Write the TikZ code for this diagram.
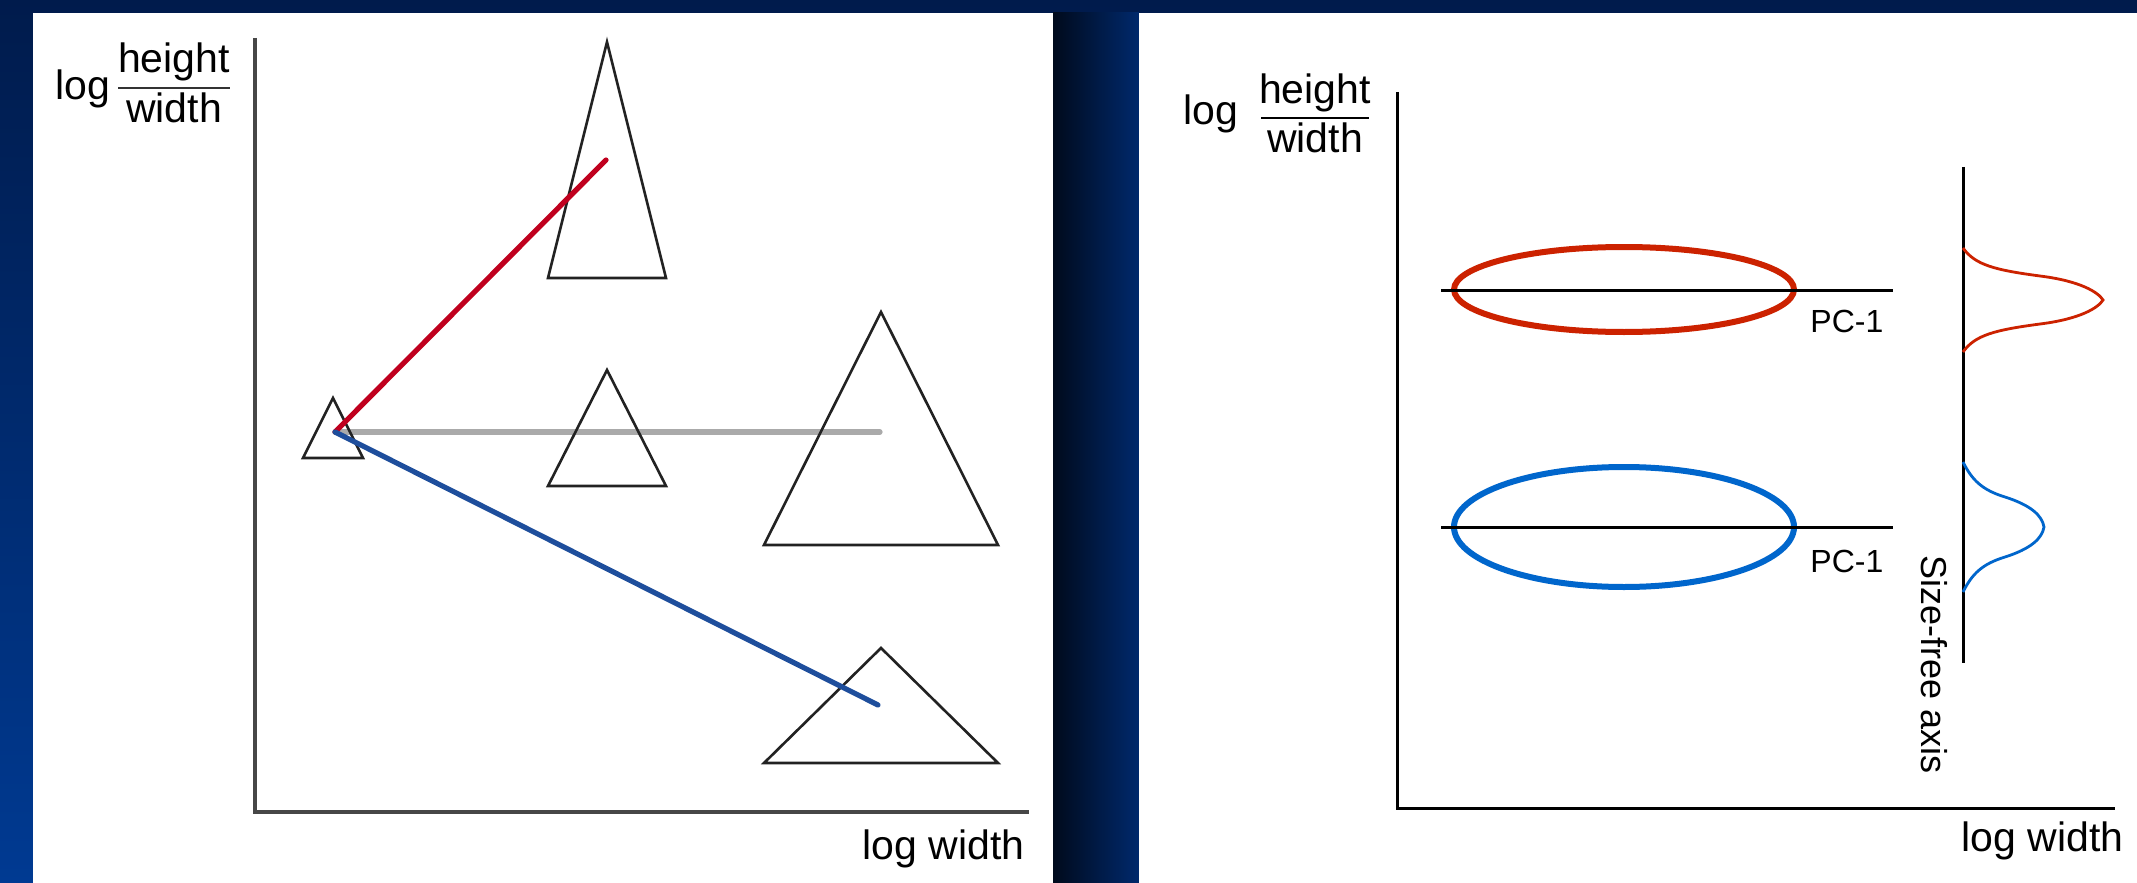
\documentclass[tikz,border=0pt]{standalone}
\usepackage{fontspec}
\setmainfont{Liberation Sans}
\definecolor{bgTop}{HTML}{001B4C}
\definecolor{bgBot}{HTML}{003A92}
\definecolor{gapL}{HTML}{000A1C}
\definecolor{gapR}{HTML}{00296C}
\definecolor{redL}{HTML}{C0001E}
\definecolor{blueL}{HTML}{1E4E9C}
\definecolor{grayL}{HTML}{AAAAAA}
\definecolor{redR}{HTML}{CC2200}
\definecolor{blueR}{HTML}{0066CC}
\definecolor{inkL}{HTML}{222222}
\begin{document}
\begin{tikzpicture}[x=0.5pt,y=-0.5pt,
  lbl/.style={inner sep=0pt, font=\fontsize{20.5}{24}\selectfont},
  pclbl/.style={inner sep=0pt, font=\fontsize{16}{19}\selectfont},
  sflbl/.style={inner sep=0pt, font=\fontsize{18}{21}\selectfont},
  axisL/.style={draw=black!72, line width=1.6pt},
  axisR/.style={draw=black, line width=1.5pt},
  tri/.style={draw=inkL, line width=1.3pt, line join=miter},
  thickline/.style={line width=2.6pt, line cap=round},
  ell/.style={line width=3pt},
  dens/.style={line width=1.4pt},
  fracbar/.style={line width=1.2pt}]
\useasboundingbox (0,0) rectangle (2137,883);
% background
\shade[top color=bgTop, bottom color=bgBot] (0,0) rectangle (2137,883);
\shade[left color=gapL, right color=gapR] (1053,13) rectangle (1139,883);
\fill[white] (33,13) rectangle (1053,883);
\fill[white] (1139,13) rectangle (2137,883);

% ---------------- left panel ----------------
\node[lbl, anchor=base west] (lLog) at (55,100) {log};
\node[lbl, anchor=base] (lNum) at (174,73) {height};
\node[lbl, anchor=base] (lDen) at (174,123) {width};
\coordinate (lBarA) at (118,88);
\coordinate (lBarB) at (230,88);
\draw[fracbar, black!80] (lBarA) -- (lBarB);

\coordinate (lYtop) at (255,38);
\coordinate (lO) at (255,812);
\coordinate (lXend) at (1029,812);
\draw[axisL] (lYtop) -- (lO) -- (lXend);
\node[lbl, anchor=base east] (lXlbl) at (1025,859) {log width};

\coordinate (p0) at (335,432);
\coordinate (pGray) at (880,432);
\coordinate (pRed) at (606,160);
\coordinate (pBlue) at (878,705);
\draw[thickline, grayL] (p0) -- (pGray);

\draw[tri] (333,398) -- (303,458) -- (363,458) -- cycle;
\draw[tri] (607,42) -- (548,278) -- (666,278) -- cycle;
\draw[tri] (607,370) -- (548,486) -- (666,486) -- cycle;
\draw[tri] (881,312) -- (764,545) -- (998,545) -- cycle;
\draw[tri] (881,648) -- (764,763) -- (998,763) -- cycle;

\draw[thickline, redL] (p0) -- (pRed);
\draw[thickline, blueL] (p0) -- (pBlue);

% ---------------- right panel ----------------
\node[lbl, anchor=base west] (rLog) at (1183,125) {log};
\node[lbl, anchor=base] (rNum) at (1315,104) {height};
\node[lbl, anchor=base] (rDen) at (1315,153) {width};
\coordinate (rBarA) at (1261,118);
\coordinate (rBarB) at (1369,118);
\draw[fracbar] (rBarA) -- (rBarB);

\coordinate (rYtop) at (1397,92);
\coordinate (rO) at (1397,808);
\coordinate (rXend) at (2115,808);
\draw[axisR] (rYtop) -- (rO) -- (rXend);
\node[lbl, anchor=base east] (rXlbl) at (2124,851) {log width};

% red group
\draw[ell, redR] (1624,289.5) ellipse [x radius=170, y radius=42.5];
\coordinate (pcAa) at (1441,290);
\coordinate (pcAb) at (1893,290);
\draw[axisR] (pcAa) -- (pcAb);
\node[pclbl, anchor=base west] (pcA) at (1810,332) {PC-1};

% blue group
\draw[ell, blueR] (1624,527) ellipse [x radius=170, y radius=60];
\coordinate (pcBa) at (1441,527);
\coordinate (pcBb) at (1893,527);
\draw[axisR] (pcBa) -- (pcBb);
\node[pclbl, anchor=base west] (pcB) at (1810,572) {PC-1};

% size-free axis
\coordinate (sfTop) at (1963,167);
\coordinate (sfBot) at (1963,663);
\draw[axisR] (sfTop) -- (sfBot);
\node[sflbl, anchor=base west, rotate=-90] (sfLbl) at (1921,555) {Size-free axis};

\draw[dens, redR] (1963,248) .. controls (1975,265) and (1995,270) .. (2040,276)
  .. controls (2080,281) and (2098,292) .. (2103,300)
  .. controls (2098,308) and (2080,319) .. (2040,324)
  .. controls (1995,330) and (1975,335) .. (1963,352);
\draw[dens, blueR] (1963,462) .. controls (1972,480) and (1982,490) .. (2005,497)
  .. controls (2030,505) and (2042,515) .. (2044,527)
  .. controls (2042,539) and (2030,549) .. (2005,557)
  .. controls (1982,564) and (1972,574) .. (1963,592);
\end{tikzpicture}
\end{document}
